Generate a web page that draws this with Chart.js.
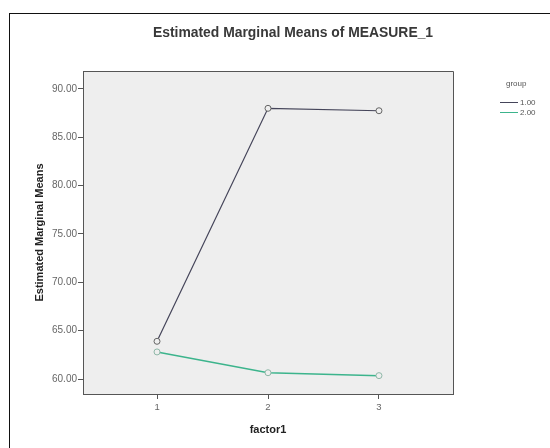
<!DOCTYPE html>
<html><head><meta charset="utf-8">
<script src="https://cdn.jsdelivr.net/npm/chart.js@4/dist/chart.umd.min.js"></script>
<style>html,body{margin:0;padding:0;background:#fff}#wrap{width:550px;height:448px}</style>
</head><body><div id="wrap"><canvas id="c" width="550" height="448"></canvas></div>
<script>
const factorLevels = [1, 2, 3];
const groupLabels = ["1.00", "2.00"];
const group1Means = [63.9, 88.0, 87.75];
const group2Means = [62.8, 60.65, 60.35];
const yTickValues = [60, 65, 70, 75, 80, 85, 90];
const chartTitle = "Estimated Marginal Means of MEASURE_1";
const legendTitle = "group";

const colors = ["#45455a", "#3cb48c"];
const FONT = "'Liberation Sans', Arial, sans-serif";

const decor = {
  id: 'decor',
  beforeDraw(chart) {
    const {ctx, chartArea: a} = chart;
    ctx.save();
    ctx.fillStyle = '#eeeeee';
    ctx.fillRect(a.left, a.top, a.right - a.left, a.bottom - a.top);
    ctx.strokeStyle = '#111';
    ctx.lineWidth = 1;
    ctx.strokeRect(9.5, 13.5, 600, 500);
    ctx.restore();
  },
  afterDraw(chart) {
    const {ctx, chartArea: a} = chart;
    ctx.save();
    ctx.strokeStyle = '#555';
    ctx.lineWidth = 1;
    ctx.beginPath();
    ctx.moveTo(a.left, a.top + 0.5); ctx.lineTo(a.right + 0.5, a.top + 0.5);
    ctx.lineTo(a.right + 0.5, a.bottom);
    ctx.stroke();
    // title
    ctx.fillStyle = '#383838';
    ctx.font = 'bold 13.9px ' + FONT;
    ctx.textAlign = 'center';
    ctx.textBaseline = 'middle';
    ctx.fillText(chartTitle, 293, 33);
    // legend
    ctx.font = '8px ' + FONT;
    ctx.fillStyle = '#555';
    ctx.textAlign = 'left';
    ctx.fillText(legendTitle, 506, 84);
    chart.data.datasets.forEach((ds, i) => {
      const y = 102 + i * 10;
      ctx.strokeStyle = ds.borderColor;
      ctx.lineWidth = 1;
      ctx.beginPath();
      ctx.moveTo(500, y + 0.5); ctx.lineTo(518, y + 0.5);
      ctx.stroke();
      ctx.fillStyle = '#555';
      ctx.fillText(ds.label, 520, y + 1);
    });
    ctx.restore();
  }
};

new Chart(document.getElementById('c'), {
  type: 'line',
  data: {
    datasets: [
      { label: groupLabels[0], data: factorLevels.map((x, i) => ({x, y: group1Means[i]})),
        borderColor: colors[0], borderWidth: 1.2, pointRadius: 3, pointBorderWidth: 1,
        pointBackgroundColor: '#eeeeee', pointBorderColor: '#666', tension: 0 },
      { label: groupLabels[1], data: factorLevels.map((x, i) => ({x, y: group2Means[i]})),
        borderColor: colors[1], borderWidth: 1.5, pointRadius: 3, pointBorderWidth: 1,
        pointBackgroundColor: '#eeeeee', pointBorderColor: '#8fb8a8', tension: 0 }
    ]
  },
  options: {
    responsive: false,
    animation: false,
    events: [],
    layout: { padding: { left: 0, right: 97, top: 71, bottom: 0 } },
    plugins: { legend: { display: false }, title: { display: false }, tooltip: { enabled: false } },
    scales: {
      x: {
        type: 'linear', min: 0.333, max: 3.667,
        afterBuildTicks(s) { s.ticks = factorLevels.map(v => ({value: v})); },
        afterFit(s) { s.height = 54; },
        grid: { display: true, drawOnChartArea: false, drawTicks: true, tickLength: 5, color: '#555' },
        border: { display: true, color: '#555' },
        ticks: { color: '#666', font: { family: FONT, size: 9.5 }, padding: 3, callback: v => String(v) },
        title: { display: true, text: 'factor1', color: '#222', font: { family: FONT, size: 11, weight: 'bold' }, padding: { top: 0, bottom: 11 } }
      },
      y: {
        min: 58.45, max: 91.86,
        afterBuildTicks(s) { s.ticks = yTickValues.map(v => ({value: v})); },
        afterFit(s) { s.width = 83; },
        grid: { display: true, drawOnChartArea: false, drawTicks: true, tickLength: 5, color: '#555' },
        border: { display: true, color: '#555' },
        ticks: { color: '#666', font: { family: FONT, size: 10 }, padding: 1, callback: v => v.toFixed(2) },
        title: { display: true, text: 'Estimated Marginal Means', color: '#222', font: { family: FONT, size: 11, weight: 'bold' }, padding: { top: 33, bottom: 0 } }
      }
    }
  },
  plugins: [decor]
});
</script></body></html>
